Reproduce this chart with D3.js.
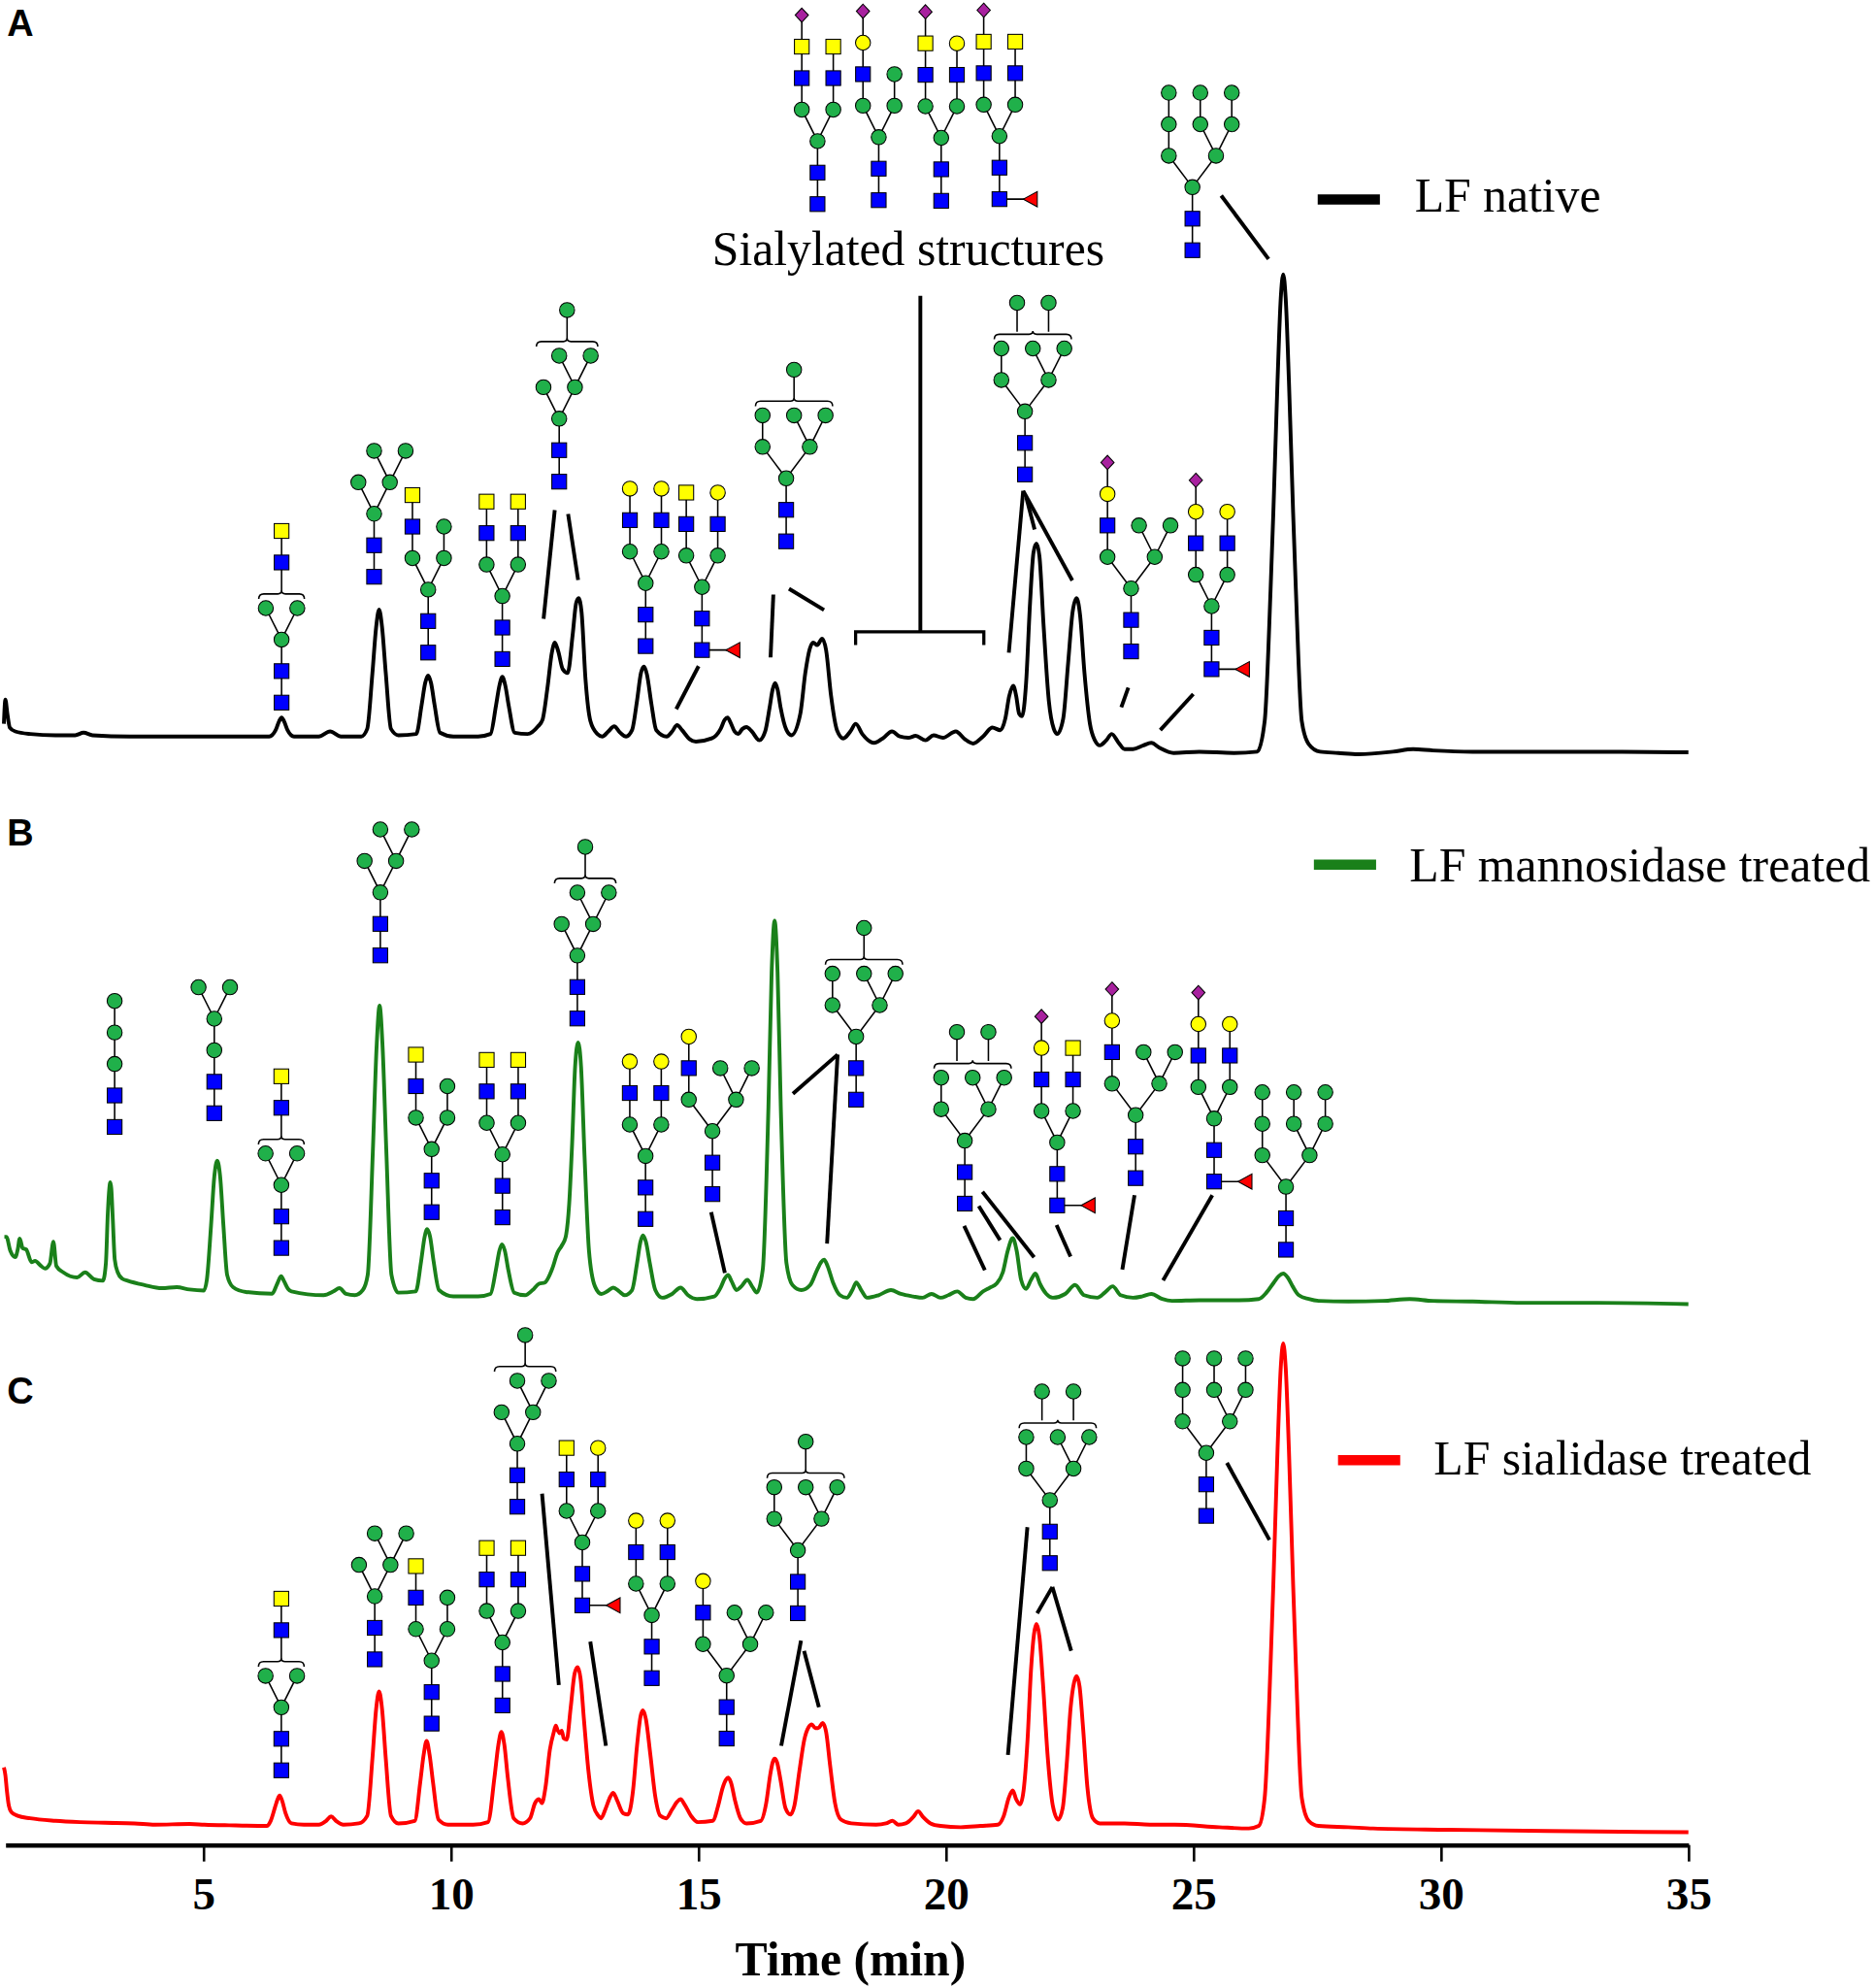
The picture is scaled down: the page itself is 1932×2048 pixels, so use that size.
<!DOCTYPE html>
<html><head><meta charset="utf-8">
<script src="https://cdn.jsdelivr.net/npm/d3@7"></script>
<style>html,body{margin:0;padding:0;background:#fff}</style>
</head><body>
<svg id="chart" width="1932" height="2048" viewBox="0 0 1477 1565.6"></svg>
<script>
// ---------------- DATA ----------------
const timeTicks = [5, 10, 15, 20, 25, 30, 35];
const panelLabels = ["A", "B", "C"];
const legendLabels = ["LF native", "LF mannosidase treated", "LF sialidase treated"];
const annotationText = "Sialylated structures";
const axisTitle = "Time (min)";

// fluorescence signal (arbitrary units) vs retention time (min)
const traceNative = [
[0.97,30],[1.0,49],[1.04,38],[1.09,27],[1.2,24],[1.5,22],[2.01,21],[2.41,21],[2.58,23],[2.76,21],[3.51,20],[4.52,20],[5.52,20],[6.33,20],[6.46,25],[6.53,32],[6.58,35],[6.63,32],[6.7,25],[6.83,20],[7.33,20],[7.56,24],[7.78,20],[8.19,20],
[8.31,26],[8.415,70],[8.49,106],[8.55,120],[8.61,106],[8.685,70],[8.79,26],[8.94,21],
[9.30,22],[9.41,45],[9.48,62],[9.54,68],[9.60,62],[9.67,45],[9.78,23],[10.05,20],[10.55,20],
[10.80,22],[10.91,44],[10.98,60],[11.04,67],[11.10,60],[11.17,44],[11.29,23],[11.55,22],
[11.76,28],[11.85,33],[11.95,58],[12.04,86],[12.10,94],[12.17,87],[12.26,73],[12.36,70],[12.46,100],[12.53,125],[12.58,129],[12.64,118],[12.72,65],[12.82,32],[12.96,22],[13.06,20],[13.18,24],[13.30,28],[13.42,23],[13.54,20],
[13.66,25],[13.76,48],[13.84,70],[13.90,75],[13.96,69],[14.05,46],[14.15,25],[14.36,20],[14.47,24],[14.57,29],[14.67,25],[14.82,18],[14.95,16],[15.27,18.5],
[15.45,26],[15.53,33],[15.59,35],[15.65,31],[15.73,24],[15.80,22],[15.89,26],[15.97,27.5],[16.08,24],[16.23,17],
[16.35,24],[16.44,43],[16.50,57],[16.55,62],[16.60,57],[16.66,43],[16.78,25],[16.88,21],
[17.06,38],[17.16,70],[17.25,89],[17.32,94],[17.40,92],[17.50,97],[17.58,88],[17.68,52],[17.80,25],[17.93,18.5],[18.07,24],[18.18,30],[18.31,22],[18.55,15],[18.74,19],[18.91,24],[19.07,20],[19.24,19],[19.39,20.5],[19.59,17],[19.75,21],[19.94,19],[20.2,24],[20.38,18],[20.55,14.5],[20.75,20],[20.94,27],[21.1,25],
[21.2,34],[21.28,52],[21.36,60],[21.42,52],[21.48,38],[21.54,36],[21.62,62],[21.70,125],[21.77,165],[21.83,172],[21.89,162],[21.97,110],[22.08,48],[22.18,26],[22.25,22],
[22.37,34],[22.47,78],[22.56,118],[22.64,129],[22.71,116],[22.80,70],[22.91,30],[23.01,17],[23.11,13],[23.24,17],[23.35,22],[23.49,15],[23.61,10],[23.78,10],[23.99,13],[24.15,15],[24.32,11],[24.6,7],[25.12,8],[25.82,7],[26.29,8],
[26.44,32],[26.56,136],[26.615,196],[26.70,300],[26.765,365],[26.815,384],[26.865,365],[26.93,300],[27.015,196],[27.07,136],[27.19,32],[27.33,14],[27.56,8],[27.93,7],[28.33,6],[29.03,8],[29.44,10],[29.84,9],[30.64,8],[32.15,8],[33.66,8],[35.0,7.5]
];

const traceMannosidase = [
[0.98,66],[1.02,66],[1.1,55],[1.2,50],[1.25,56],[1.29,64.5],[1.35,57],[1.42,56],[1.53,46],[1.6,47],[1.72,43],[1.8,41],[1.9,45],[1.97,62],[2.03,43],[2.17,38],[2.45,34],[2.61,38],[2.79,32.6],[2.97,31.4],
[3.03,45],[3.07,85],[3.10,104],[3.12,109],[3.14,104],[3.17,80],[3.21,48],[3.27,38],[3.36,33],[3.47,31.4],[3.81,28],[4.16,25.5],[4.46,26.3],[4.72,24.5],[5.01,23.7],
[5.07,32],[5.155,75],[5.22,113],[5.28,126],[5.34,113],[5.405,75],[5.48,36],[5.60,26.3],[5.86,22.5],[6.39,21.2],[6.48,28],[6.55,34],[6.57,35],[6.63,31],[6.71,25],[6.78,23],[7.43,20],[7.63,23],[7.75,25.5],[7.88,21],[8.06,20],[8.22,24],
[8.32,36],[8.425,135],[8.50,216],[8.56,248],[8.62,216],[8.695,135],[8.80,36],[8.94,22],
[9.29,23],[9.40,47],[9.47,66],[9.52,72],[9.58,66],[9.65,47],[9.76,24],[10.05,19],[10.55,19],[10.8,21],
[10.91,40],[10.98,55],[11.03,60],[11.09,55],[11.16,40],[11.28,22],[11.5,20],[11.65,24],[11.78,29],[11.9,30],[12.04,40],[12.16,54],[12.24,59],[12.32,66],[12.39,92],[12.45,140],[12.51,200],[12.57,219],[12.63,200],[12.70,130],[12.79,55],[12.91,27],[13.04,21],[13.16,23],[13.28,26],[13.40,23],[13.51,20],
[13.66,24],[13.76,45],[13.83,62],[13.88,67],[13.94,62],[14.02,45],[14.13,24],[14.27,18],[14.47,21],[14.64,26],[14.79,20],[14.97,17],[15.32,19],
[15.45,26],[15.53,33],[15.60,36],[15.67,31],[15.77,24],[15.87,27],[15.99,32],[16.10,26],[16.18,22],
[16.30,40],[16.415,168],[16.48,274],[16.54,315],[16.60,274],[16.665,168],[16.78,45],[16.90,28],[17.08,24],[17.26,28],[17.40,40],[17.48,46],[17.54,48],[17.61,43],[17.72,30],[17.86,20],[18.0,18],[18.11,24],[18.19,30],[18.29,24],[18.41,18],[18.64,20],[18.89,24],[19.09,21],[19.34,19],[19.53,18],[19.71,21],[19.89,18],[20.05,20],[20.23,23],[20.4,18],[20.55,17],[20.75,23],[20.89,26],[21.02,29],[21.15,38],[21.25,55],[21.35,65],[21.43,55],[21.52,32],[21.62,25],[21.72,32],[21.81,37],[21.9,29],[22.03,21],[22.16,18],[22.41,21],[22.61,28],[22.79,20],[23.06,18],[23.21,22],[23.37,27],[23.53,20],[23.78,18],[23.96,19],[24.15,21],[24.37,17],[24.57,15.5],[25.12,16],[25.92,16],[26.32,17],
[26.475,22],[26.625,30],[26.725,35],[26.815,37],[26.905,34],[27.005,27],[27.13,20],[27.33,17],[27.53,15.5],[28.13,15],[28.83,15.5],[29.37,17],[29.84,15.5],[30.64,15],[31.65,14],[33.16,14],[35.0,13]
];

const traceSialidase = [
[0.97,78],[1.0,72],[1.03,60],[1.07,48],[1.12,43],[1.25,40],[1.5,38],[2.01,36],[2.51,35],[3.01,34.5],[3.61,34],[4.02,33],[4.72,33.5],[5.02,33],[5.52,32.5],[6.28,32],
[6.36,36],[6.45,47],[6.50,53],[6.54,56],[6.59,52],[6.66,42],[6.78,34],[7.03,33],[7.33,33],[7.48,36],[7.58,39.5],[7.68,36],[7.83,33],[8.14,34],
[8.31,40],[8.415,85],[8.49,124],[8.55,138],[8.61,124],[8.685,85],[8.79,40],[8.94,34],
[9.27,36],[9.38,66],[9.45,88],[9.51,99],[9.57,88],[9.64,66],[9.75,37],[9.94,33],[10.45,33],[10.75,35],
[10.88,70],[10.96,96],[11.02,106],[11.08,96],[11.15,70],[11.27,38],[11.45,34],[11.6,38],[11.7,50],[11.78,53],[11.84,50],[11.91,62],[12.0,92],[12.08,106],[12.12,111],[12.16,107],[12.20,105],[12.24,107],[12.28,101],[12.34,100],[12.42,125],[12.50,152],[12.56,157],[12.62,148],[12.69,115],[12.78,75],[12.88,48],[12.98,40],[13.03,38],[13.13,46],[13.22,55],[13.28,58],[13.36,52],[13.48,42],[13.58,41],
[13.68,60],[13.76,95],[13.83,118],[13.88,123],[13.94,116],[14.03,88],[14.13,55],[14.23,40],[14.35,38],[14.47,45],[14.57,51],[14.64,53],[14.72,49],[14.85,40],[14.99,35],[15.29,36],
[15.40,48],[15.49,62],[15.55,68],[15.60,70],[15.66,66],[15.74,52],[15.85,38],[15.97,34],[16.26,36],
[16.37,50],[16.45,72],[16.50,82],[16.54,85],[16.59,82],[16.66,68],[16.76,46],[16.86,41],[16.94,48],[17.04,75],[17.14,100],[17.23,110],[17.29,112],[17.36,109],[17.42,109],[17.51,113],[17.58,106],[17.66,80],[17.76,50],[17.88,37],[18.09,34],[18.59,33],[18.79,34],[18.92,36],[19.04,33],[19.19,34],[19.34,39],[19.44,43.5],[19.54,39],[19.69,34],[19.89,32],[20.3,31],[20.7,32],[21.05,33],
[21.17,40],[21.27,54],[21.35,60],[21.42,53],[21.5,49],[21.57,60],[21.65,100],[21.72,155],[21.78,183],[21.83,191],[21.89,181],[21.96,145],[22.06,85],[22.16,48],[22.27,37],
[22.36,46],[22.44,80],[22.52,125],[22.59,145],[22.64,150],[22.70,142],[22.77,110],[22.86,62],[22.97,38],[23.11,34],[23.61,34],[24.12,33],[24.62,33],[25.52,31],[26.12,30],[26.32,32],
[26.44,54],[26.56,160],[26.615,222],[26.70,328],[26.765,393],[26.815,412],[26.865,393],[26.93,328],[27.015,222],[27.07,160],[27.19,54],[27.33,36],[27.53,32],[28.13,31],[28.63,30],[30.14,29],[32.15,28],[35.0,27]
];

// ---------------- LAYOUT ----------------
const svg = d3.select("#chart");
const SERIF = "'Liberation Serif','Times New Roman',serif";
const SANS = "'Liberation Sans',Arial,sans-serif";
const traceColors = ["#000000", "#1a801a", "#ff0000"];

const x = d3.scaleLinear().domain([1, 35]).range([4.23, 1330]);
const yScales = [
  d3.scaleLinear().domain([0, 400]).range([600, 200]),
  d3.scaleLinear().domain([0, 400]).range([1040, 640]),
  d3.scaleLinear().domain([0, 400]).range([1470, 1070])
];
const traces = [traceNative, traceMannosidase, traceSialidase];

const gTrace = svg.append("g");
traces.forEach((tr, i) => {
  const line = d3.line().x(d => x(d[0])).y(d => yScales[i](d[1])).curve(d3.curveMonotoneX);
  gTrace.append("path").datum(tr).attr("d", line)
    .attr("fill", "none").attr("stroke", traceColors[i]).attr("stroke-width", 3)
    .attr("stroke-linejoin", "round");
});

// axis
const axisG = svg.append("g").attr("transform", "translate(0,1453)")
  .call(d3.axisBottom(x).tickValues(timeTicks).tickSize(13).tickSizeOuter(0));
axisG.attr("font-family", SERIF).attr("font-size", 36);
axisG.select(".domain").attr("stroke", "#000").attr("stroke-width", 3.5);
axisG.selectAll(".tick line").attr("stroke", "#000").attr("stroke-width", 2);
axisG.selectAll(".tick text").attr("y", 51).attr("dy", 0).attr("fill", "#000")
  .attr("font-weight", "bold").attr("font-family", SERIF).attr("font-size", 36);

svg.append("text").attr("x", 670).attr("y", 1556).attr("text-anchor", "middle")
  .attr("font-family", SERIF).attr("font-weight", "bold").attr("font-size", 38).text(axisTitle);

// panel labels
const labelY = [28.5, 666, 1105.5];
panelLabels.forEach((l, i) => {
  svg.append("text").attr("x", 5.5).attr("y", labelY[i]).attr("font-family", SANS)
    .attr("font-weight", "bold").attr("font-size", 29).text(l);
});

// legends
const legendPos = [[1038, 1087, 157, 1114.4, 166.8], [1035, 1084, 681, 1110.3, 694], [1054, 1103, 1150, 1129.4, 1161.5]];
legendLabels.forEach((l, i) => {
  const p = legendPos[i];
  svg.append("line").attr("x1", p[0]).attr("x2", p[1]).attr("y1", p[2]).attr("y2", p[2])
    .attr("stroke", traceColors[i]).attr("stroke-width", 8);
  svg.append("text").attr("x", p[3]).attr("y", p[4]).attr("font-family", SERIF)
    .attr("font-size", 38).text(l);
});

svg.append("text").attr("x", 715.5).attr("y", 209).attr("text-anchor", "middle")
  .attr("font-family", SERIF).attr("font-size", 38).text(annotationText);

// ---------------- GLYCAN SYMBOLS ----------------
const U = 12.4, STEP = 24.8;
const FILL = { S: "#0000ff", M: "#20b04a", L: "#ffff00", Y: "#ffff00", A: "#a8219f", F: "#ff0000" };
function base() { return [["S", 0, 0, -1], ["S", 0, -1, 0], ["M", 0, -2, 1]]; }
function biant(lt, rt) { return base().concat([["M", -1, -3, 2], ["S", -1, -4, 3], [lt, -1, -5, 4], ["M", 1, -3, 2], ["S", 1, -4, 6], [rt, 1, -5, 7]]); }
function wideCore() { return base().concat([["M", -1.5, -3, 2], ["M", 1.5, -3, 2], ["M", 0.5, -4, 4], ["M", 2.5, -4, 4], ["M", -1.5, -4, 3]]); }
const man5nodes = base().concat([["M", -1, -3, 2], ["M", 1, -3, 2], ["M", 0, -4, 4], ["M", 2, -4, 4]]);
const T = {
  man3: { nodes: base().concat([["M", 0, -3, 2], ["M", 0, -4, 3]]) },
  man4: { nodes: base().concat([["M", 0, -3, 2], ["M", -1, -4, 3], ["M", 1, -4, 3]]) },
  man5: { nodes: man5nodes },
  man6: { nodes: man5nodes, bracket: { x1: -1.45, x2: 2.45, gy: -4.45, arms: [[0.5, ["M"]]] } },
  bisY: { nodes: base().concat([["M", -1, -3, 2], ["M", 1, -3, 2]]), bracket: { x1: -1.45, x2: 1.45, gy: -3.45, arms: [[0, ["S", "Y"]]] } },
  hybY: { nodes: base().concat([["M", -1, -3, 2], ["S", -1, -4, 3], ["Y", -1, -5, 4], ["M", 1, -3, 2], ["M", 1, -4, 6]]) },
  biY: { nodes: biant("Y", "Y") },
  biL: { nodes: biant("L", "L") },
  biYLF: { nodes: biant("Y", "L").concat([["F", 2, 0, 0]]) },
  man7: { nodes: wideCore(), bracket: { x1: -1.95, x2: 2.95, gy: -4.45, arms: [[0.5, ["M"]]] } },
  man8: { nodes: wideCore(), bracket: { x1: -1.95, x2: 2.95, gy: -4.45, arms: [[-0.5, ["M"]], [1.5, ["M"]]] } },
  man9: { nodes: wideCore().concat([["M", -1.5, -5, 7], ["M", 0.5, -5, 5], ["M", 2.5, -5, 6]]) },
  hybLw: { nodes: base().concat([["M", -1.5, -3, 2], ["S", -1.5, -4, 3], ["L", -1.5, -5, 4], ["M", 1.5, -3, 2], ["M", 0.5, -4, 6], ["M", 2.5, -4, 6]]) },
  hybAw: { nodes: base().concat([["M", -1.5, -3, 2], ["S", -1.5, -4, 3], ["L", -1.5, -5, 4], ["A", -1.5, -6, 5], ["M", 1.5, -3, 2], ["M", 0.5, -4, 7], ["M", 2.5, -4, 7]]) },
  sia1: { nodes: biant("Y", "Y").concat([["A", -1, -6, 5]]) },
  sia2: { nodes: base().concat([["M", -1, -3, 2], ["S", -1, -4, 3], ["L", -1, -5, 4], ["A", -1, -6, 5], ["M", 1, -3, 2], ["M", 1, -4, 7]]) },
  sia3: { nodes: biant("Y", "L").concat([["A", -1, -6, 5]]) },
  sia4: { nodes: biant("Y", "Y").concat([["A", -1, -6, 5], ["F", 2, 0, 0]]) },
  biLAF: { nodes: biant("L", "L").concat([["A", -1, -6, 5], ["F", 2, 0, 0]]) },
  biLYAF: { nodes: biant("L", "Y").concat([["A", -1, -6, 5], ["F", 2, 0, 0]]) }
};

const glycans = [
  ["bisY", 221.8, 553.3], ["man5", 294.7, 454.2], ["hybY", 337.3, 513.9], ["biY", 395.7, 519], ["man6", 440.5, 379.3], ["biL", 508.6, 508.8], ["biYLF", 553, 511.9], ["man7", 619.3, 426.3],
  ["sia1", 644, 160.7], ["sia2", 692.2, 157.6], ["sia3", 741.4, 158.1], ["sia4", 787.3, 156.8],
  ["man8", 807.4, 373.6], ["hybAw", 891, 513], ["biLAF", 954.4, 527], ["man9", 939.3, 197],
  ["man3", 90.3, 887.5], ["man4", 168.8, 876.7], ["bisY", 221.6, 982.8], ["man5", 299.6, 752.4], ["hybY", 340, 954.6], ["biY", 395.8, 958.7], ["man6", 454.8, 802.1], ["biL", 508.5, 960], ["hybLw", 561.2, 940.4], ["man7", 674.4, 866], ["man8", 760, 947.9], ["biLYAF", 832.8, 949.3], ["hybAw", 894.6, 927.8], ["biLAF", 956.4, 930.5], ["man9", 1013, 984.2],
  ["bisY", 221.6, 1394.2], ["man5", 295.2, 1306.8], ["hybY", 340, 1357.4], ["biY", 395.8, 1343.1], ["man6", 407.5, 1186.6], ["biYLF", 458.7, 1264.3], ["biL", 513.4, 1321.6], ["hybLw", 572.4, 1369.2], ["man7", 628.5, 1270.5], ["man8", 827, 1231], ["man9", 950.2, 1193.8]
];

const gGly = svg.append("g");
function symbol(g, type, cx, cy) {
  let el;
  if (type === "S" || type === "Y") {
    el = g.append("rect").attr("x", cx - 5.8).attr("y", cy - 5.8).attr("width", 11.6).attr("height", 11.6);
  } else if (type === "M" || type === "L") {
    el = g.append("circle").attr("cx", cx).attr("cy", cy).attr("r", 5.9);
  } else if (type === "A") {
    el = g.append("path").attr("d", `M${cx},${cy - 5.6}L${cx + 5.2},${cy}L${cx},${cy + 5.6}L${cx - 5.2},${cy}Z`);
  } else if (type === "F") {
    el = g.append("path").attr("d", `M${cx - 6},${cy}L${cx + 5},${cy - 6}L${cx + 5},${cy + 6}Z`);
  }
  el.attr("fill", FILL[type]).attr("stroke", "#000").attr("stroke-width", 0.8);
}
glycans.forEach(([name, rx, ry]) => {
  const tpl = T[name];
  const g = gGly.append("g");
  const P = tpl.nodes.map(n => [rx + n[1] * U, ry + n[2] * STEP]);
  const edges = g.append("g").attr("stroke", "#000").attr("stroke-width", 1.2).attr("fill", "none");
  tpl.nodes.forEach((n, i) => {
    if (n[3] >= 0) edges.append("line").attr("x1", P[i][0]).attr("y1", P[i][1]).attr("x2", P[n[3]][0]).attr("y2", P[n[3]][1]);
  });
  const extra = [];
  if (tpl.bracket) {
    const b = tpl.bracket;
    const x1 = rx + b.x1 * U, x2 = rx + b.x2 * U, by = ry + b.gy * STEP, cxm = (x1 + x2) / 2;
    edges.append("path").attr("d",
      `M${x1},${by + 4}Q${x1},${by} ${x1 + 4},${by}H${cxm - 3}Q${cxm},${by} ${cxm},${by - 2.5}Q${cxm},${by} ${cxm + 3},${by}H${x2 - 4}Q${x2},${by} ${x2},${by + 4}`);
    b.arms.forEach(([gx, chain]) => {
      const ax = rx + gx * U;
      let prevY = by - 2;
      chain.forEach((t, k) => {
        const ny = by - (k + 1) * STEP;
        edges.append("line").attr("x1", ax).attr("y1", prevY).attr("x2", ax).attr("y2", ny);
        prevY = ny;
        extra.push([t, ax, ny]);
      });
    });
  }
  tpl.nodes.forEach((n, i) => symbol(g, n[0], P[i][0], P[i][1]));
  extra.forEach(e => symbol(g, e[0], e[1], e[2]));
});

// connector lines from structures to peaks
const connectors = [
  [437, 401.7, 428.2, 487.3], [447.5, 404.7, 455.4, 456.8], [550.3, 524.6, 532.7, 558.4],
  [609.2, 468.2, 607, 517.7], [621.5, 463.6, 649.1, 480.4],
  [725, 233, 725, 497.5],
  [806, 386.5, 794.7, 514], [806, 386.5, 844.7, 457.1], [808.5, 392, 815, 417],
  [888.8, 541.5, 883.3, 557], [940, 546.6, 914, 575], [962, 154, 999.3, 204],
  [560.2, 954.6, 571, 1002.5], [624.6, 861.4, 659.8, 830.5], [659.8, 830.5, 651.5, 979.4],
  [759.5, 965.4, 775.8, 1000.3], [771, 949.8, 787.8, 976.7], [773.9, 938.5, 814.6, 990.1],
  [832.3, 964.8, 843.3, 989.6], [893.7, 941.2, 884.1, 999.8], [955, 941.2, 916.2, 1008.4],
  [427, 1176.3, 440.2, 1327], [465, 1292.8, 477.3, 1374.9],
  [631, 1292, 615.4, 1374.9], [633.4, 1300.1, 645.1, 1344.5],
  [809.3, 1202.7, 794, 1382.1], [829, 1249.8, 817, 1270.5], [829, 1249.8, 843.8, 1300.1],
  [966.5, 1152.1, 1000, 1212.7]
];
const gCon = svg.append("g").attr("stroke", "#000").attr("stroke-width", 3).attr("stroke-linecap", "butt");
connectors.forEach(c => gCon.append("line").attr("x1", c[0]).attr("y1", c[1]).attr("x2", c[2]).attr("y2", c[3]));
gCon.append("path").attr("fill", "none").attr("stroke-width", 2.5)
  .attr("d", "M674,508V497.5H775V508");
</script>
</body></html>
